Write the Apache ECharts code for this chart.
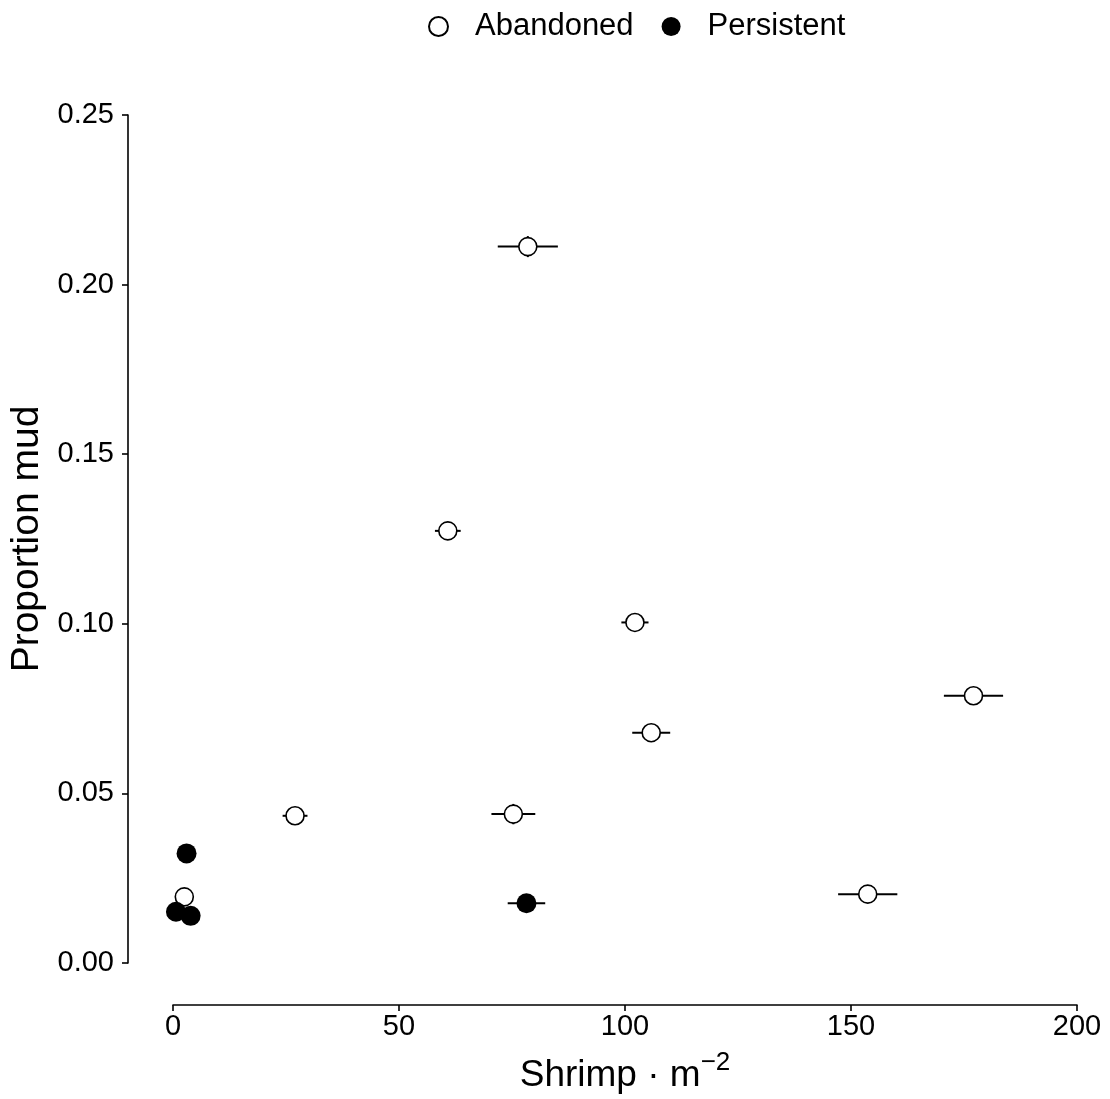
<!DOCTYPE html>
<html>
<head>
<meta charset="utf-8">
<script src="https://cdn.jsdelivr.net/npm/echarts@6/dist/echarts.min.js"></script>
<style>
  html, body { margin: 0; padding: 0; background: #fff; }
  #chart { width: 1110px; height: 1099px; }
</style>
</head>
<body>
<div id="chart"></div>
<script>
// Shrimp density vs. proportion of mud, by site status (mean ± SE)
const abandonedX    = [78.5, 60.8, 102.2, 177.1, 105.8, 27.0, 75.3, 153.7, 2.5];
const abandonedY    = [0.2112, 0.1274, 0.1004, 0.0788, 0.0679, 0.0434, 0.0439, 0.0203, 0.0195];
const abandonedXErr = [6.65, 2.85, 3.0, 6.55, 4.2, 2.75, 4.85, 6.55, 0.5];
const abandonedYErr = [0.0031, 0.0015, 0.0015, 0.0015, 0.0015, 0.0015, 0.003, 0.0015, 0.001];

const persistentX    = [3.0, 0.66, 3.9, 78.2];
const persistentY    = [0.0323, 0.0151, 0.0139, 0.0176];
const persistentXErr = [0.5, 0.5, 0.5, 4.15];
const persistentYErr = [0.001, 0.001, 0.001, 0.0015];

const xTicks = [0, 50, 100, 150, 200];
const yTicks = [0, 0.05, 0.10, 0.15, 0.20, 0.25];

const FONT = "'Liberation Sans', Arial, Helvetica, sans-serif";

function points(xs, ys) { return xs.map((x, i) => [x, ys[i]]); }
function errRows(xs, ys, ex, ey) { return xs.map((x, i) => [x, ys[i], ex[i], ey[i]]); }

function renderErrorBar(params, api) {
  const x = api.value(0), y = api.value(1), ex = api.value(2), ey = api.value(3);
  const l = api.coord([x - ex, y]), r = api.coord([x + ex, y]);
  const b = api.coord([x, y - ey]), t = api.coord([x, y + ey]);
  const st = { stroke: '#000', lineWidth: 2, fill: null };
  return {
    type: 'group',
    children: [
      { type: 'line', shape: { x1: l[0], y1: l[1], x2: r[0], y2: r[1] }, style: st },
      { type: 'line', shape: { x1: b[0], y1: b[1], x2: t[0], y2: t[1] }, style: st }
    ]
  };
}

const chart = echarts.init(document.getElementById('chart'), null, { renderer: 'canvas' });

chart.setOption({
  animation: false,
  backgroundColor: '#fff',
  textStyle: { fontFamily: FONT },
  legend: {
    data: ['Abandoned', 'Persistent'],
    top: 6,
    left: 423,
    itemWidth: 19,
    itemHeight: 19,
    itemGap: 28,
    icon: 'circle',
    textStyle: { fontSize: 31, color: '#000', fontFamily: FONT, padding: [0, 0, 0, 22] }
  },
  grid: { left: 173, right: 33, top: 115, bottom: 136, containLabel: false, outerBoundsMode: 'none' },
  xAxis: {
    type: 'value',
    min: xTicks[0], max: xTicks[xTicks.length - 1], interval: 50,
    offset: 42,
    splitLine: { show: false },
    axisLine: { onZero: false, lineStyle: { color: '#000', width: 1.6 } },
    axisTick: { length: 6, lineStyle: { color: '#000', width: 1.6 } },
    axisLabel: { fontSize: 29, color: '#000', margin: 7, fontFamily: FONT },
    name: '{a|Shrimp · m}{sup|−2}',
    nameLocation: 'middle',
    nameGap: 45,
    nameTextStyle: {
      fontFamily: FONT, color: '#000', fontSize: 37,
      rich: {
        a: { fontSize: 37, fontFamily: FONT, color: '#000', lineHeight: 44, verticalAlign: 'bottom' },
        sup: { fontSize: 26, fontFamily: FONT, color: '#000', lineHeight: 26, verticalAlign: 'top' }
      }
    }
  },
  yAxis: {
    type: 'value',
    min: yTicks[0], max: yTicks[yTicks.length - 1], interval: 0.05,
    offset: 45,
    splitLine: { show: false },
    axisLine: { onZero: false, lineStyle: { color: '#000', width: 1.6 } },
    axisTick: { length: 6, lineStyle: { color: '#000', width: 1.6 } },
    axisLabel: { fontSize: 29, color: '#000', margin: 14, fontFamily: FONT, formatter: v => v.toFixed(2) },
    name: 'Proportion mud',
    nameLocation: 'middle',
    nameGap: 73,
    nameTextStyle: { fontFamily: FONT, color: '#000', fontSize: 39 }
  },
  series: [
    {
      name: 'errAbandoned', type: 'custom', z: 1,
      renderItem: renderErrorBar,
      encode: { x: 0, y: 1 },
      data: errRows(abandonedX, abandonedY, abandonedXErr, abandonedYErr)
    },
    {
      name: 'errPersistent', type: 'custom', z: 1,
      renderItem: renderErrorBar,
      encode: { x: 0, y: 1 },
      data: errRows(persistentX, persistentY, persistentXErr, persistentYErr)
    },
    {
      name: 'Abandoned', type: 'scatter', z: 2,
      symbol: 'circle', symbolSize: 18,
      itemStyle: { color: '#fff', borderColor: '#000', borderWidth: 1.6, opacity: 1 },
      emphasis: { disabled: true },
      data: points(abandonedX, abandonedY)
    },
    {
      name: 'Persistent', type: 'scatter', z: 3,
      symbol: 'circle', symbolSize: 20,
      itemStyle: { color: '#000', borderColor: '#000', borderWidth: 0, opacity: 1 },
      emphasis: { disabled: true },
      data: points(persistentX, persistentY)
    }
  ]
});
</script>
</body>
</html>
